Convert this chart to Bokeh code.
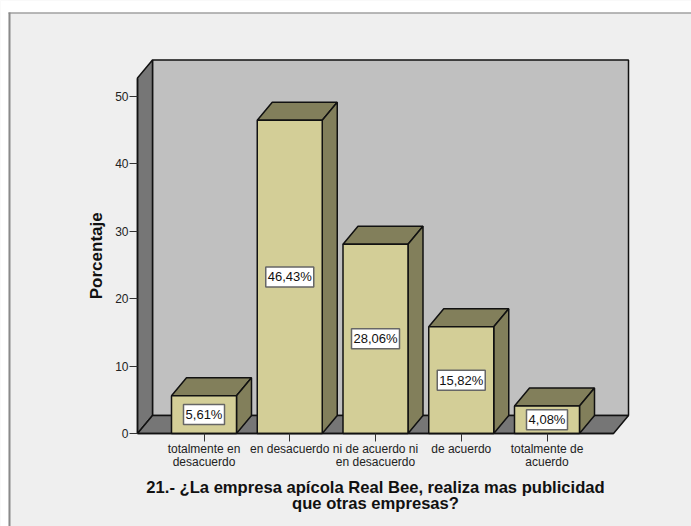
from bokeh.plotting import figure
from bokeh.embed import file_html
from bokeh.resources import INLINE
from bokeh.models import ColumnDataSource, FixedTicker, Range1d, BoxAnnotation
from bokeh.core.properties import value

categories = ["totalmente en\ndesacuerdo", "en desacuerdo", "ni de acuerdo ni\nen desacuerdo", "de acuerdo", "totalmente de\nacuerdo"]
values = [5.61, 46.43, 28.06, 15.82, 4.08]
bar_labels = ["5,61%", "46,43%", "28,06%", "15,82%", "4,08%"]
y_ticks = [0, 10, 20, 30, 40, 50]
x_title = "21.- ¿La empresa apícola Real Bee, realiza mas publicidad\nque otras empresas?"
y_title = "Porcentaje"

FONT = "Liberation Sans"
FIG_W, FIG_H = 691, 526
PX_X = 85.75   # px per category
PX_Y = 6.745   # px per percent
ORIGIN_PX_X = 203.5   # where the first category falls
ORIGIN_PX_Y = 433.0   # where 0 % falls, from the top
x_lo = -ORIGIN_PX_X / PX_X
y_lo = -(FIG_H - ORIGIN_PX_Y) / PX_Y
x0 = -(203.5 - 137) / PX_X
DX, DY = 15 / PX_X, 18 / PX_Y
HALF = 32.5 / PX_X
AXIS_R = x0 + 476 / PX_X
WALL_TOP = 52.7

p = figure(width=FIG_W, height=FIG_H, output_backend="svg", toolbar_location=None,
           x_range=Range1d(x_lo, x_lo + FIG_W / PX_X), y_range=Range1d(y_lo, y_lo + FIG_H / PX_Y),
           min_border=0, background_fill_color="#efefef", border_fill_color="#efefef",
           styles={"position": "absolute", "left": "0", "top": "0"})
p.outline_line_color = None
p.grid.visible = False

# white page margin and the panel's grey edge (screen y counts from the bottom)
for l, r, b, t, c in [(0, 691, 514, 526, "white"), (0, 8, 0, 526, "white"),
                      (8, 691, 513, 514, "#7a7a7a"), (8, 10, 0, 514, "#8a8a8a")]:
    p.add_layout(BoxAnnotation(left=l, right=r, top=t, bottom=b, left_units="screen", right_units="screen",
                               top_units="screen", bottom_units="screen", fill_color=c, fill_alpha=1,
                               line_color=None, level="underlay"))

EDGE = "#111111"
# walls and floor
p.patch([x0 + DX, AXIS_R + DX, AXIS_R + DX, x0 + DX], [DY, DY, WALL_TOP + DY, WALL_TOP + DY],
        fill_color="#c0c0c0", line_color=EDGE, line_width=1.5)
p.patch([x0, x0 + DX, x0 + DX, x0], [0, DY, WALL_TOP + DY, WALL_TOP],
        fill_color="#767676", line_color=EDGE, line_width=1.5)
p.patch([x0, x0 + DX, AXIS_R + DX, AXIS_R], [0, DY, DY, 0],
        fill_color="#767676", line_color=EDGE, line_width=1.5)

# bars
for i, v in enumerate(values):
    l, r = i - HALF, i + HALF
    p.patch([l, r, r + DX, l + DX], [v, v, v + DY, v + DY], fill_color="#827f5b", line_color=EDGE, line_width=1.5)
    p.patch([r, r + DX, r + DX, r], [0, DY, v + DY, v], fill_color="#827f5b", line_color=EDGE, line_width=1.5)
    p.patch([l, r, r, l], [0, 0, v, v], fill_color="#d3ce97", line_color=EDGE, line_width=1.5)

src = ColumnDataSource(dict(x=list(range(len(values))), y=[v / 2 for v in values], t=bar_labels,
                            w=[7 * len(t) + 6 for t in bar_labels]))
p.rect(x="x", y="y", width="w", height=20, width_units="screen", height_units="screen", source=src,
       fill_color="white", line_color="#666666", line_width=1.5)
p.text(x="x", y="y", text="t", source=src, text_align="center", text_baseline="middle",
       text_font=value(FONT), text_font_size="13px", text_color="#111111")

xa, ya = p.xaxis[0], p.yaxis[0]
ya.ticker = FixedTicker(ticks=y_ticks)
ya.bounds = (0, WALL_TOP)
ya.fixed_location = x0
xa.ticker = FixedTicker(ticks=list(range(len(categories))))
xa.major_label_overrides = {i: c for i, c in enumerate(categories)}
xa.bounds = (x0, AXIS_R)
xa.fixed_location = 0

# axis titles
p.text(x=[x0 - 41 / PX_X], y=[WALL_TOP / 2], text=[y_title], angle=90, angle_units="deg",
       text_align="center", text_baseline="middle", text_font=value(FONT), text_font_size="17px",
       text_font_style="bold", text_color="#111111")
p.text(x=[(x0 + AXIS_R) / 2], y=[-62 / PX_Y], text=[x_title], text_align="center", text_baseline="middle",
       text_font=value(FONT), text_font_size="16.6px", text_font_style="bold", text_color="#111111",
       text_line_height=0.8)

for a in (xa, ya):
    a.axis_line_color = EDGE
    a.axis_line_width = 1.5
    a.major_tick_line_color = "#333333"
    a.major_tick_line_width = 1
    a.major_tick_out = 8
    a.major_tick_in = 0
    a.minor_tick_line_color = None
    a.major_label_text_font = FONT
    a.major_label_text_font_size = "12px"
    a.major_label_text_color = "#222222"
    a.major_label_standoff = 1
xa.major_label_orientation = "horizontal"
xa.major_label_text_line_height = 0.95
xa.major_label_standoff = 0

open("out.html", "w").write(file_html(p, INLINE))
